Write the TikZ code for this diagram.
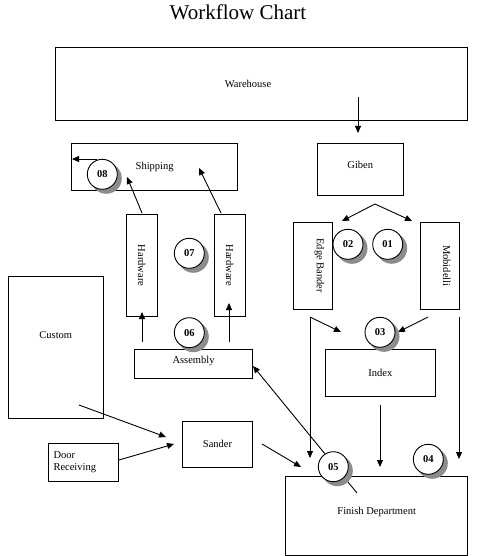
\documentclass[tikz,border=0pt]{standalone}
\usepackage{fontspec}
\setmainfont{Liberation Serif}
\usepackage{tikz}
\usetikzlibrary{arrows.meta}
\tikzset{
    box/.style={draw, line width=0.9pt, inner sep=0pt}, % 工位方框
    stage/.style={circle, draw, line width=0.9pt, fill=white, minimum size=30pt, inner sep=0pt,
        font=\fontsize{10.5}{12}\selectfont\bfseries}, % 编号圆圈
    ringshadow/.style={fill=black!45}, % 圆圈阴影
    flow/.style={line width=0.9pt, -{Triangle[length=7pt, width=6pt]}} % 流程箭头
}

\begin{document}
\begin{tikzpicture}[x=1pt, y=-1pt, font=\fontsize{10.5}{12.6}\selectfont]
    \useasboundingbox (0,0) rectangle (476,556);

    \node[font=\fontsize{21}{24}\selectfont] (title) at (238,12) {Workflow Chart};

    % 方框
    \node[box, minimum width=412pt, minimum height=73pt, label={[xshift=-13pt]center:Warehouse}] (ware) at (261,83.5) {};
    \node[box, minimum width=166pt, minimum height=47pt] (ship) at (154.7,166.8) {Shipping};
    \node[box, minimum width=86.7pt, minimum height=51.7pt, label={[yshift=4pt]center:Giben}] (giben) at (360.3,169.2) {};
    \node[box, minimum width=31pt, minimum height=102.4pt, label={[rotate=-90]center:Hardware}] (hwl) at (141.8,265.5) {};
    \node[box, minimum width=30.7pt, minimum height=101.7pt, label={[rotate=-90]center:Hardware}] (hwr) at (229.7,265.2) {};
    \node[box, minimum width=39pt, minimum height=87pt, label={[xshift=6.5pt, rotate=-90]center:Edge Bander}] (edge) at (312.8,265.8) {};
    \node[box, minimum width=39.4pt, minimum height=87pt, label={[xshift=6.7pt, rotate=-90]center:Mobidelli}] (mobi) at (440,265.8) {};
    \node[box, minimum width=95pt, minimum height=142.3pt, label={[yshift=12pt]center:Custom}] (custom) at (55.8,347.2) {};
    \node[box, minimum width=118.4pt, minimum height=29pt, label={[yshift=3pt]center:Assembly}] (assem) at (193.5,363.8) {};
    \node[box, minimum width=110pt, minimum height=47pt] (index) at (380.3,372.8) {Index};
    \node[box, minimum width=70.4pt, minimum height=46pt] (sander) at (217.5,444.3) {Sander};
    \node[box, minimum width=70.4pt, minimum height=38pt, text width=60pt, align=left] (door) at (83.5,462.3) {Door\\Receiving};
    \node[box, minimum width=182pt, minimum height=79.7pt, label={[yshift=4pt]center:Finish Department}] (finish) at (376.7,515.8) {};

    % 箭头端点
    \coordinate (wh1) at (358,97);   \coordinate (wh2) at (358,133);
    \coordinate (gb0) at (375,204);  \coordinate (gb1) at (342,221);  \coordinate (gb2) at (412,221);
    \coordinate (sh1) at (97,159);   \coordinate (sh2) at (72,159);
    \coordinate (hl1) at (142,213);  \coordinate (hl2) at (127,177);
    \coordinate (hr1) at (221,213);  \coordinate (hr2) at (199,168);
    \coordinate (as1) at (142,342);  \coordinate (as2) at (142,312);
    \coordinate (as3) at (229,342);  \coordinate (as4) at (229,303);
    \coordinate (cu1) at (79,405);   \coordinate (cu2) at (166,437);
    \coordinate (dr1) at (119,460);  \coordinate (dr2) at (174,444);
    \coordinate (sd1) at (262,444);  \coordinate (sd2) at (301,467);
    \coordinate (fd1) at (357,493);  \coordinate (fd2) at (253,366);
    \coordinate (eb1) at (310,317);  \coordinate (eb2) at (341,332);  \coordinate (eb3) at (310,458);
    \coordinate (mb1) at (428,317);  \coordinate (mb2) at (398,332);
    \coordinate (mb3) at (459,317);  \coordinate (mb4) at (459,459);
    \coordinate (ix1) at (380,405);  \coordinate (ix2) at (380,467);

    \foreach \a/\b in {wh1/wh2, gb0/gb1, gb0/gb2, sh1/sh2, hl1/hl2, hr1/hr2, as1/as2, as3/as4,
        cu1/cu2, dr1/dr2, sd1/sd2, fd1/fd2, eb1/eb2, eb1/eb3, mb1/mb2, mb3/mb4, ix1/ix2}
        {\draw[flow] (\a) -- (\b);}

    % 编号圆圈
    \foreach \n/\x/\y in {01/387.7/244.3, 02/348/244.3, 03/380/332.3, 04/428.3/459.3,
        05/333.3/466.7, 06/189.3/332.7, 07/189.3/253.3, 08/102.3/174.3}
        {\fill[ringshadow] (\x+4,\y+4) circle [radius=15.5pt];
         \node[stage] (c\n) at (\x,\y) {\n};}
\end{tikzpicture}
\end{document}
